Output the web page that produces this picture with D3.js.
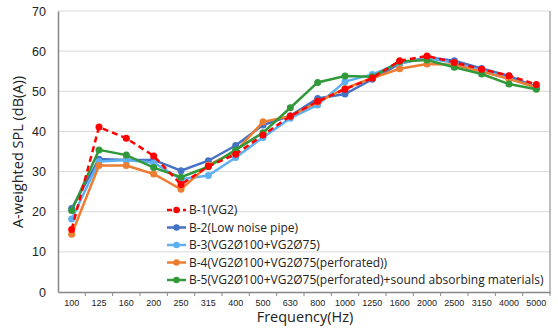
<!DOCTYPE html>
<html>
<head>
<meta charset="utf-8">
<script src="https://cdn.jsdelivr.net/npm/d3@7"></script>
<style>
  body { margin: 0; background: #fff; }
  svg { display: block; font-family: "Open Sans", "DejaVu Sans", sans-serif; }
</style>
</head>
<body>
<svg id="chart" width="558" height="329"></svg>
<script>
// categories (Hz)
var freqs = ["100", "125", "160", "200", "250", "315", "400", "500", "630", "800",
  "1000", "1250", "1600", "2000", "2500", "3150", "4000", "5000"];
var yTicks = [0, 10, 20, 30, 40, 50, 60, 70];

// series values, dB(A)
var b1 = [15.6, 41.1, 38.3, 33.9, 26.8, 31.3, 34.3, 39.1, 43.8, 47.5, 50.5, 53.3, 57.6, 58.8, 57.2, 55.5, 53.9, 51.7];
var b2 = [20.8, 33.1, 32.9, 32.9, 30.2, 32.7, 36.5, 41.6, 43.9, 48.2, 49.3, 53.0, 56.9, 58.5, 57.6, 55.7, 53.8, 51.0];
var b3 = [18.2, 32.5, 32.9, 32.2, 28.1, 29.0, 33.5, 38.5, 43.3, 46.6, 52.4, 54.2, 57.0, 58.2, 57.1, 55.1, 53.1, 51.0];
var b4 = [14.4, 31.5, 31.5, 29.4, 25.6, 31.6, 35.0, 42.4, 43.8, 47.3, 50.7, 53.3, 55.6, 56.8, 56.6, 54.9, 53.1, 51.0];
var b5 = [20.3, 35.4, 34.1, 31.0, 28.6, 31.2, 35.4, 39.7, 45.9, 52.2, 53.8, 53.6, 57.4, 57.8, 56.0, 54.3, 51.8, 50.5];

var seriesNames = [
  "B-1(VG2)",
  "B-2(Low noise pipe)",
  "B-3(VG2Ø100+VG2Ø75)",
  "B-4(VG2Ø100+VG2Ø75(perforated))",
  "B-5(VG2Ø100+VG2Ø75(perforated)+sound absorbing materials)"
];
var seriesColors = ["#ff0000", "#4472c4", "#5eb0f2", "#ed7d31", "#31993a"];

var series = [b1, b2, b3, b4, b5].map(function (v, i) {
  return { name: seriesNames[i], color: seriesColors[i], values: v, dashed: i == 0 };
});

var svg = d3.select("#chart");
var plotLeft = 58, plotRight = 550, plotTop = 11, plotBottom = 292;

var x = d3.scaleBand().domain(freqs).range([plotLeft, plotRight]);
var y = d3.scaleLinear().domain([0, 70]).range([plotBottom, plotTop]);

// gridlines
svg.append("g")
  .selectAll("line")
  .data(yTicks.slice(1))
  .join("line")
  .attr("x1", plotLeft).attr("x2", plotRight)
  .attr("y1", d => y(d)).attr("y2", d => y(d))
  .attr("stroke", "#d9d9d9")
  .attr("stroke-width", 1);

// right frame
svg.append("line")
  .attr("x1", plotRight).attr("x2", plotRight)
  .attr("y1", plotTop).attr("y2", plotBottom)
  .attr("stroke", "#7f7f7f");

// y axis
var yAxis = svg.append("g")
  .attr("transform", "translate(" + plotLeft + ",0)")
  .call(d3.axisLeft(y).tickValues(yTicks).tickSize(0).tickPadding(12));
yAxis.select(".domain").attr("stroke", "#868686").attr("stroke-width", 1.5);
yAxis.selectAll("text").attr("font-size", 12.5).attr("fill", "#222");

// x axis
var xAxis = svg.append("g")
  .attr("transform", "translate(0," + plotBottom + ")")
  .call(d3.axisBottom(x).tickSize(0).tickPadding(8));
xAxis.select(".domain").attr("stroke", "#868686").attr("stroke-width", 1.5);
xAxis.selectAll("text").attr("font-size", 9).attr("fill", "#222");

// tick marks at band boundaries
svg.append("g")
  .selectAll("line")
  .data(freqs)
  .join("line")
  .attr("x1", (d, i) => plotLeft + x.step() * (i + 1))
  .attr("x2", (d, i) => plotLeft + x.step() * (i + 1))
  .attr("y1", plotBottom).attr("y2", plotBottom + 4)
  .attr("stroke", "#868686");

// axis titles
svg.append("text")
  .attr("x", 305).attr("y", 322)
  .attr("text-anchor", "middle")
  .attr("font-size", 14.5)
  .attr("fill", "#222")
  .text("Frequency(Hz)");

svg.append("text")
  .attr("transform", "translate(23,152) rotate(-90)")
  .attr("text-anchor", "middle")
  .attr("font-size", 14.5)
  .attr("fill", "#222")
  .text("A-weighted SPL (dB(A))");

// lines
var line = d3.line()
  .x((d, i) => x(freqs[i]) + x.bandwidth() / 2)
  .y(d => y(d));

var drawOrder = [1, 2, 3, 4, 0];
drawOrder.forEach(function (k) {
  var s = series[k];
  var g = svg.append("g");
  g.append("path")
    .attr("d", line(s.values))
    .attr("fill", "none")
    .attr("stroke", s.color)
    .attr("stroke-width", 2.5)
    .attr("stroke-dasharray", s.dashed ? "6,4" : null);
  g.selectAll("circle")
    .data(s.values)
    .join("circle")
    .attr("cx", (d, i) => x(freqs[i]) + x.bandwidth() / 2)
    .attr("cy", d => y(d))
    .attr("r", 3.5)
    .attr("fill", s.color);
});

// legend
var legend = svg.append("g");
series.forEach(function (s, i) {
  var ly = 210 + i * 17.5;
  legend.append("line")
    .attr("x1", 167).attr("x2", 186)
    .attr("y1", ly).attr("y2", ly)
    .attr("stroke", s.color)
    .attr("stroke-width", 2.5)
    .attr("stroke-dasharray", s.dashed ? "5,3" : null);
  legend.append("circle")
    .attr("cx", 176.5).attr("cy", ly).attr("r", 3.2)
    .attr("fill", s.color);
  legend.append("text")
    .attr("x", 189).attr("y", ly + 4)
    .attr("font-size", 12)
    .attr("fill", "#222")
    .text(s.name);
});
</script>
</body>
</html>
